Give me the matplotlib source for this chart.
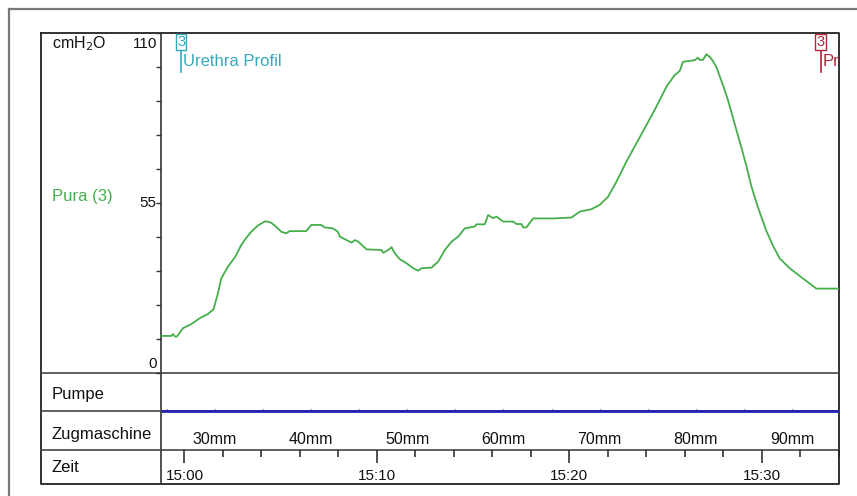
import matplotlib
matplotlib.use('Agg')
import matplotlib.pyplot as plt
import matplotlib.transforms as mtransforms
import numpy as np

plt.rcParams['font.family'] = ['Liberation Sans', 'DejaVu Sans']

# ---------------- data ----------------
# Pura (3) pressure in cmH2O, time in minutes relative to 15:00
pura_time_min = [-1.205, -0.686, -0.597, -0.494, -0.39, -0.078, 0.353, 0.790, 1.221, 1.429,
                 1.506, 1.740, 1.912, 2.260, 2.639, 2.951, 3.158, 3.470, 3.818, 4.166,
                 4.338, 4.509, 4.769, 5.029, 5.288, 5.465, 6.327, 6.587, 7.106, 7.283,
                 7.714, 7.974, 8.078, 8.426, 8.686, 8.857, 9.029, 9.465, 10.244, 10.327,
                 10.587, 10.764, 10.935, 11.195, 11.543, 11.886, 12.145, 12.322, 12.842, 13.184,
                 13.532, 13.881, 14.223, 14.571, 15.091, 15.179, 15.610, 15.782, 16.042, 16.218,
                 16.561, 17.081, 17.257, 17.517, 17.600, 17.777, 17.948, 18.119, 19.158, 20.114,
                 20.545, 21.153, 21.584, 22.016, 22.452, 22.971, 23.491, 24.010, 24.530, 25.049,
                 25.481, 25.740, 25.912, 26.519, 26.691, 26.779, 26.951, 27.127, 27.299, 27.470,
                 27.647, 27.818, 28.026, 28.249, 28.467, 28.686, 28.945, 29.205, 29.465, 29.808,
                 30.244, 30.587, 30.935, 31.455, 32.145, 32.842, 33.964]
pura_cmH2O = [12.0, 12.0, 12.6, 11.8, 11.8, 14.5, 15.8, 17.7, 19.1, 20.2,
              20.5, 25.8, 30.6, 34.4, 37.6, 41.4, 43.3, 45.7, 47.7, 49.0,
              49.0, 48.6, 47.3, 45.7, 45.2, 45.9, 45.9, 47.9, 47.9, 47.1,
              46.8, 45.7, 44.1, 43.0, 42.2, 43.0, 42.5, 40.0, 39.8, 38.9,
              39.8, 40.7, 38.7, 36.8, 35.5, 33.9, 33.1, 33.9, 34.1, 36.0,
              39.8, 42.5, 44.1, 46.8, 47.4, 48.1, 48.1, 51.1, 50.1, 50.6,
              49.0, 49.0, 48.2, 48.2, 47.1, 47.1, 48.6, 50.0, 50.0, 50.3,
              52.2, 53.0, 54.4, 57.0, 61.9, 68.4, 74.3, 80.2, 86.2, 92.6,
              96.4, 97.7, 100.7, 101.2, 102.0, 101.3, 101.3, 103.1, 102.3, 100.9,
              99.0, 96.0, 92.5, 88.3, 83.5, 78.6, 73.0, 67.0, 60.4, 53.6,
              46.0, 41.2, 37.1, 33.9, 30.6, 27.3, 27.3]

y_major = [0, 55, 110]
y_minor = list(range(0, 111, 11))

time_major = [0, 10, 20, 30]
time_labels = ['15:00', '15:10', '15:20', '15:30']
time_minor = list(range(0, 35, 2))

mm_label_vals = [30, 40, 50, 60, 70, 80, 90]
mm_tick_vals = list(range(25, 95, 5))
pull_rate_mm_per_min = 2.0
mm_at_1500 = 26.84

pump_time = [-1.22, 34.02]
pump_value = [0, 0]

event_times = [-0.17, 33.07]
event_ids = ['3', '3']
event_texts = ['Urethra Profil', 'Profil']
event_colors = ['#35a9bc', '#b3253b']

row_labels = ['Pumpe', 'Zugmaschine', 'Zeit']

XLIM = (-1.22, 34.02)
GREEN = '#45ae4b'
BLUE = '#2222b0'

# ---------------- layout ----------------
W, H = 857, 496
fig = plt.figure(figsize=(W / 100, H / 100), dpi=100, facecolor='white')


def rect(l, t, r, b):
    return [l / W, 1 - b / H, (r - l) / W, (b - t) / H]


L_IN, R_IN, T_IN, B_IN = 41, 839, 33, 484
X0 = 161
Y_PLOT_B, Y_PUMP_B, Y_ZUG_B = 373, 411, 450

ov = fig.add_axes([0, 0, 1, 1], zorder=0)
ov.set_xlim(0, W)
ov.set_ylim(H, 0)
ov.axis('off')
# outer border (top and left visible)
ov.plot([9, 9], [9, H], color='#777777', lw=1.6)
ov.plot([9, W], [9, 9], color='#777777', lw=1.6)
# inner frame
ov.plot([L_IN, R_IN, R_IN, L_IN, L_IN], [T_IN, T_IN, B_IN, B_IN, T_IN], color='#222222', lw=1.3)
ov.plot([X0, X0], [T_IN, B_IN], color='#333333', lw=1.2)
for yy in (Y_PLOT_B, Y_PUMP_B, Y_ZUG_B):
    ov.plot([L_IN, R_IN], [yy, yy], color='#444444', lw=1.2)

# row labels
ov.text(52, 44, 'cmH$_2$O', fontsize=11.5, va='center', ha='left', color='#111111')
ov.text(52, 197, 'Pura (3)', fontsize=12, va='center', ha='left', color=GREEN)
for lab, yy in zip(row_labels, [395, 434, 468]):
    ov.text(52, yy, lab, fontsize=12, va='center', ha='left', color='#111111')

# main plot
ax = fig.add_axes(rect(X0, T_IN, R_IN, Y_PLOT_B), zorder=2)
ax.patch.set_visible(False)
for s in ax.spines.values():
    s.set_visible(False)
ax.plot(pura_time_min, pura_cmH2O, color=GREEN, lw=1.3)
ax.set_xlim(*XLIM)
ax.set_ylim(0, 110)
ax.set_xticks([])
ax.set_yticks(y_major)
ax.set_yticks(y_minor, minor=True)
ax.tick_params(axis='y', which='both', direction='out', length=3.5, width=1,
               labelleft=False, color='#333333')
for v in y_major:
    dy = -8 if v == max(y_major) else (6.5 if v == min(y_major) else 0)
    ax.annotate(str(v), xy=(0, v), xycoords=('axes fraction', 'data'),
                xytext=(-3, dy), textcoords='offset points',
                ha='right', va='center', fontsize=11, color='#111111')

trans_ev = mtransforms.blended_transform_factory(ax.transData, ax.transAxes)
for t, eid, txt, col in zip(event_times, event_ids, event_texts, event_colors):
    ax.text(t, 0.994, eid, transform=trans_ev, ha='center', va='top', fontsize=10.5,
            color=col, bbox=dict(boxstyle='square,pad=0.08', fc='white', ec=col, lw=1))
    ax.plot([t, t], [0.947, 0.885], transform=trans_ev, color=col, lw=1.2)
    ax.annotate(txt, xy=(t, 0.915), xycoords=trans_ev, xytext=(1.2, 0),
                textcoords='offset points', ha='left', va='center',
                fontsize=12, color=col, annotation_clip=False, clip_on=True)

# pump row
axp = fig.add_axes(rect(X0, Y_PLOT_B, R_IN, Y_PUMP_B), zorder=2)
axp.patch.set_visible(False)
for s in axp.spines.values():
    s.set_visible(False)
axp.set_xlim(*XLIM)
axp.set_ylim(0, 1)
axp.plot(pump_time, pump_value, color=BLUE, lw=2, clip_on=False, solid_capstyle='butt')
mm_tick_t = [(m - mm_at_1500) / pull_rate_mm_per_min for m in mm_tick_vals]
axp.set_xticks(mm_tick_t)
axp.set_yticks([])
axp.tick_params(axis='x', direction='in', length=1.8, width=1, color=BLUE, labelbottom=False)

# Zugmaschine row
axz = fig.add_axes(rect(X0, Y_PUMP_B, R_IN, Y_ZUG_B), zorder=2)
axz.patch.set_visible(False)
axz.axis('off')
axz.set_xlim(*XLIM)
axz.set_ylim(0, 1)
for m in mm_label_vals:
    axz.text((m - mm_at_1500) / pull_rate_mm_per_min, 0.27, f'{m}mm',
             ha='center', va='center', fontsize=11.5, color='#111111')

# Zeit row
axt = fig.add_axes(rect(X0, Y_ZUG_B, R_IN, B_IN), zorder=2)
axt.patch.set_visible(False)
for s in axt.spines.values():
    s.set_visible(False)
axt.set_xlim(*XLIM)
axt.set_ylim(0, 1)
axt.set_xticks(time_major)
axt.set_xticks(time_minor, minor=True)
axt.set_yticks([])
axt.tick_params(axis='x', which='both', top=True, bottom=False, direction='in',
                labeltop=False, labelbottom=False, width=1.1, color='#222222')
axt.tick_params(axis='x', which='major', length=9)
axt.tick_params(axis='x', which='minor', length=5)
for t, lab in zip(time_major, time_labels):
    axt.text(t, 0.24, lab, ha='center', va='center', fontsize=11, color='#111111')

fig.savefig('out.png', dpi=100, facecolor='white')
